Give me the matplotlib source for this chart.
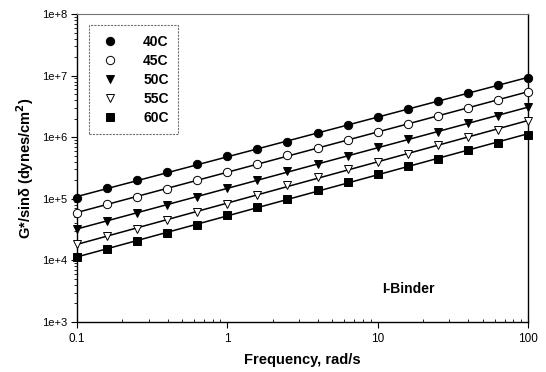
import numpy as np
import matplotlib
matplotlib.use("Agg")
import matplotlib.pyplot as plt
from matplotlib.ticker import LogLocator, FixedLocator, FixedFormatter, NullFormatter

freq = [0.1, 0.158, 0.251, 0.398, 0.631, 1.0, 1.58, 2.51, 3.98, 6.31,
        10.0, 15.8, 25.1, 39.8, 63.1, 100.0]

g40 = [1.02e5, 1.48e5, 2.02e5, 2.69e5, 3.63e5, 4.95e5, 6.46e5, 8.39e5,
       1.17e6, 1.57e6, 2.14e6, 2.88e6, 3.89e6, 5.13e6, 6.92e6, 9.20e6]
g45 = [5.89e4, 8.13e4, 1.07e5, 1.46e5, 2.00e5, 2.73e5, 3.72e5, 5.09e5,
       6.70e5, 8.91e5, 1.22e6, 1.66e6, 2.24e6, 3.00e6, 3.98e6, 5.33e6]
g50 = [3.27e4, 4.37e4, 5.89e4, 7.83e4, 1.07e5, 1.47e5, 2.00e5, 2.83e5,
       3.73e5, 4.97e5, 6.95e5, 9.18e5, 1.22e6, 1.67e6, 2.22e6, 3.04e6]
g55 = [1.87e4, 2.45e4, 3.27e4, 4.57e4, 6.10e4, 8.32e4, 1.14e5, 1.66e5,
       2.26e5, 2.99e5, 3.98e5, 5.43e5, 7.41e5, 1.01e6, 1.33e6, 1.84e6]
g60 = [1.13e4, 1.51e4, 2.07e4, 2.78e4, 3.80e4, 5.37e4, 7.36e4, 1.00e5,
       1.37e5, 1.87e5, 2.50e5, 3.41e5, 4.51e5, 6.15e5, 8.20e5, 1.08e6]

labels = ["40C", "45C", "50C", "55C", "60C"]
series = [g40, g45, g50, g55, g60]
markers = ["o", "o", "v", "v", "s"]
filled = [True, False, True, False, True]

ytick_vals = [1e3, 1e4, 1e5, 1e6, 1e7, 1e8]
ytick_labels = ["1e+3", "1e+4", "1e+5", "1e+6", "1e+7", "1e+8"]
xtick_vals = [0.1, 1, 10, 100]
xtick_labels = ["0.1", "1", "10", "100"]

plt.rcParams['font.family'] = ['Liberation Sans', 'DejaVu Sans']

fig = plt.figure(figsize=(5.46, 3.72), dpi=100)
ax = fig.add_axes([77/546, 1-322/372, (528-77)/546, (322-14)/372])
ax.set_xscale("log")
ax.set_yscale("log")

x = np.array(freq)
xl = np.logspace(-1, 2, 50)
for lab, ys, m, f in zip(labels, series, markers, filled):
    y = np.array(ys)
    p = np.polyfit(np.log10(x), np.log10(y), 1)
    ax.plot(xl, 10 ** np.polyval(p, np.log10(xl)), color="black", lw=1.1, zorder=2)
    ax.plot(x, y, linestyle="none", marker=m, ms=6 if m != "s" else 5.5,
            markerfacecolor="black" if f else "white", markeredgecolor="black",
            markeredgewidth=0.7, label=lab, zorder=3, clip_on=False)

ax.set_xlim(0.1, 100)
ax.set_ylim(1e3, 1e8)

ax.yaxis.set_major_locator(FixedLocator(ytick_vals))
ax.yaxis.set_major_formatter(FixedFormatter(ytick_labels))
ax.yaxis.set_minor_locator(LogLocator(base=10, subs=np.arange(2, 10), numticks=20))
ax.yaxis.set_minor_formatter(NullFormatter())
ax.xaxis.set_major_locator(FixedLocator(xtick_vals))
ax.xaxis.set_major_formatter(FixedFormatter(xtick_labels))
ax.xaxis.set_minor_locator(LogLocator(base=10, subs=np.arange(2, 10), numticks=20))
ax.xaxis.set_minor_formatter(NullFormatter())

ax.tick_params(axis="y", which="major", direction="out", length=4, width=0.8, labelsize=8, pad=3)
ax.tick_params(axis="y", which="minor", direction="out", length=2, width=0.6)
ax.tick_params(axis="x", which="major", direction="out", length=4, width=0.8, labelsize=8.5, pad=4)
ax.tick_params(axis="x", which="minor", direction="in", length=2, width=0.6)

ax.spines["top"].set_color("0.45")
ax.spines["top"].set_linewidth(0.8)
ax.spines["top"].set_linestyle((0, (2, 1)))
for s in ["left", "bottom", "right"]:
    ax.spines[s].set_linewidth(1.0)
    ax.spines[s].set_color("black")

ax.set_xlabel("Frequency, rad/s", fontsize=10.5, fontweight="bold", labelpad=6)
ax.set_ylabel("G*/sin\u03b4 (dynes/cm$^\\mathbf{2}$)", fontsize=10.5, fontweight="bold", labelpad=4)

ax.text(0.735, 0.107, "I-Binder", transform=ax.transAxes, fontsize=10,
        fontweight="bold", ha="center", va="center")

leg = ax.legend(loc="upper left", bbox_to_anchor=((89-77)/451, 1-(25-14)/308),
                frameon=True, fancybox=False, handlelength=1.6, handletextpad=1.6,
                borderpad=0.7, labelspacing=0.36, borderaxespad=0,
                prop={"weight": "bold", "size": 10})
leg.get_frame().set_edgecolor("0.3")
leg.get_frame().set_linewidth(0.8)
leg.get_frame().set_linestyle((0, (2, 1)))

fig.savefig("out.png", dpi=100)
